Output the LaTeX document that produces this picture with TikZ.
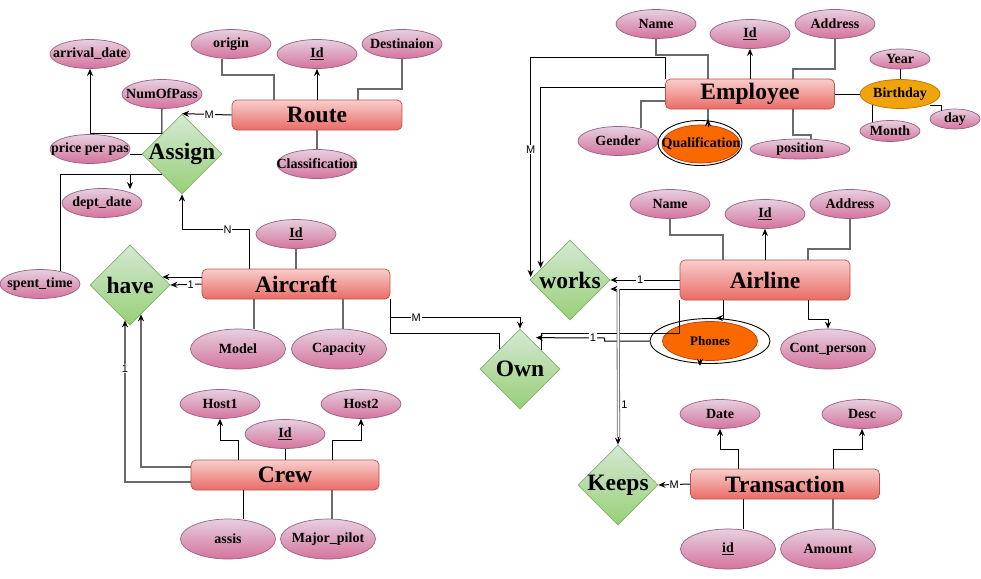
\documentclass[tikz,border=0pt]{standalone}
\usepackage{fontspec}
\setmainfont{Liberation Serif}
\newfontfamily\labsans{Liberation Sans}
\usetikzlibrary{shapes.geometric,arrows.meta,calc}
\definecolor{attrT}{HTML}{E6D0DE}
\definecolor{attrB}{HTML}{D5739D}
\definecolor{attrS}{HTML}{996185}
\definecolor{entT}{HTML}{F8CECC}
\definecolor{entB}{HTML}{EA6B66}
\definecolor{entS}{HTML}{B85450}
\definecolor{relT}{HTML}{D5E8D4}
\definecolor{relB}{HTML}{97D077}
\definecolor{relS}{HTML}{82B366}
\definecolor{bdayF}{HTML}{F0A30A}
\definecolor{bdayS}{HTML}{BD7000}
\definecolor{multiF}{HTML}{FA6800}
\definecolor{multiS}{HTML}{C73500}
\definecolor{lineG}{HTML}{6A6A6A}
\newcommand\myEfont{\bfseries\fontsize{23.5}{26}\selectfont}
\newcommand\myAfont{\bfseries\fontsize{14}{16}\selectfont}
\newcommand\myPfont{\bfseries\fontsize{13}{15}\selectfont}
\newcommand\myLfont{\labsans\fontsize{11}{12}\selectfont}
\begin{document}
\begin{tikzpicture}[x=1pt,y=-1pt,
  afont/.style={font=\myAfont, inner sep=0pt, text=black},
  attr/.style={ellipse, draw=attrS, top color=attrT, bottom color=attrB, minimum width=80pt, minimum height=29pt, inner sep=0pt, line width=0.7pt, label={[afont]center:#1}},
  big/.style={minimum width=95pt, minimum height=40pt},
  ent/.style={rectangle, rounded corners=5pt, draw=entS, top color=entT, bottom color=entB, minimum height=30pt, inner sep=0pt, line width=0.7pt, font=\myEfont},
  rel/.style={diamond, draw=relS, top color=relT, bottom color=relB, minimum width=80pt, minimum height=80pt, inner sep=0pt, line width=0.7pt, label={[font=\myEfont, inner sep=0pt]center:#1}},
  multi/.style={ellipse, draw=multiS, fill=multiF, inner sep=0pt, line width=0.7pt, label={[font=\myPfont, inner sep=0pt]center:#1}},
  multiA/.style={ellipse, draw=multiS, fill=multiF, inner sep=0pt, line width=0.7pt, label={[afont]center:#1}},
  multiout/.style={ellipse, draw=black, fill=white, inner sep=0pt, line width=0.9pt},
  bday/.style={ellipse, draw=bdayS, fill=bdayF, minimum width=80pt, minimum height=29pt, inner sep=0pt, line width=0.7pt, label={[afont]center:#1}},
  ln/.style={draw=lineG, line width=1.2pt},
  lk/.style={draw=black, line width=1pt},
  arr/.style={draw=black, line width=1pt, -{Stealth[length=7pt,width=6pt]}},
  arrg/.style={draw=lineG, line width=1.2pt, -{Stealth[length=7pt,width=6pt,color=black]}},
  dbl/.style={draw=lineG, double=white, double distance=1.6pt, line width=0.8pt},
  lab/.style={fill=white, inner sep=0.8pt, font=\myLfont}
]
\useasboundingbox (0,0) rectangle (981,578);
\fill[white] (0,0) rectangle (981,578);

% ---------- nodes ----------
\node[ent, minimum width=170pt] (route) at (317,115) {Route};
\node[attr=origin] (origin) at (231,44) {};
\node[attr={\underline{Id}}] (rId) at (317,54) {};
\node[attr=Destinaion] (dest) at (402,44) {};
\node[attr=Classification] (classif) at (317,164) {};
\node[rel=Assign] (assign) at (182,154) {};
\node[attr=NumOfPass] (numpass) at (162,94) {};
\node[attr=arrival\_date] (arrival) at (90,54) {};
\node[attr=price per pas] (price) at (90,149) {};
\node[attr=dept\_date] (dept) at (102,203) {};
\node[attr=spent\_time] (spent) at (40,284) {};

\node[ent, minimum width=188pt] (aircraft) at (296,284) {Aircraft};
\node[attr={\underline{Id}}] (aId) at (296,234) {};
\node[attr=Model, big] (model) at (238,349) {};
\node[attr=Capacity, big] (capacity) at (339,349) {};
\node[rel=have] (have) at (130,285) {};

\node[ent, minimum width=188pt] (crew) at (285,475) {Crew};
\node[attr=Host1] (host1) at (220,404) {};
\node[attr=Host2] (host2) at (361,404) {};
\node[attr={\underline{Id}}] (cId) at (285,434) {};
\node[attr=assis, big] (assis) at (228,539) {};
\node[attr=Major\_pilot, big] (major) at (328,539) {};

\node[rel=Own] (own) at (520,369) {};
\node[rel=works] (works) at (570,280) {};

\node[ent, minimum width=170pt, minimum height=40pt] (airline) at (765,280) {Airline};
\node[attr=Name] (alName) at (670,204) {};
\node[attr={\underline{Id}}] (alId) at (765,214) {};
\node[attr=Address] (alAddr) at (850,204) {};
\node[attr=Cont\_person, big] (cont) at (828,349) {};
\node[multiout, minimum width=120pt, minimum height=45pt] (phones) at (710,341) {};
\node[multi=Phones, minimum width=95pt, minimum height=39pt] (phonesIn) at (710,341) {};

\node[rel=Keeps] (keeps) at (618,485) {};
\node[ent, minimum width=189pt] (trans) at (785,484) {Transaction};
\node[attr=Date] (date) at (720,414) {};
\node[attr=Desc] (desc) at (862,414) {};
\node[attr={\underline{id}}, big] (tid) at (728,549) {};
\node[attr=Amount, big] (amount) at (828,549) {};

\node[ent, minimum width=169pt] (employee) at (750,94) {Employee};
\node[attr=Name] (eName) at (656,24) {};
\node[attr={\underline{Id}}] (eId) at (750,34) {};
\node[attr=Address] (eAddr) at (835,24) {};
\node[attr=Gender] (gender) at (618,141) {};
\node[multiout, minimum width=84pt, minimum height=45pt] (qual) at (700,143) {};
\node[multiA=Qualification, minimum width=78pt, minimum height=38pt] (qualIn) at (701,144) {};
\node[attr=position, minimum width=100pt, minimum height=20pt] (position) at (800,149) {};
\node[bday=Birthday] (birthday) at (900,94) {};
\node[attr=Year, minimum width=60pt, minimum height=20pt] (year) at (900,59) {};
\node[attr=Month, minimum width=60pt, minimum height=21pt] (month) at (890,131) {};
\node[attr=day, minimum width=50pt, minimum height=20pt] (day) at (955,119) {};

% ---------- Route ----------
\draw[ln] (origin.south -| 222,0) |- (274,75) -- (274,0 |- route.north);
\draw[arr] (route.north) -- (rId.south);
\draw[ln] (dest.south) |- (358,89) -- (358,0 |- route.north);
\draw[ln] (route.south) -- (classif.north);
\draw[arr] (route.west) -- node[lab,pos=0.45]{M} (assign.north);

% ---------- Assign ----------
\draw[lk] (numpass.south) -- (assign.north west);
\draw[arr] (assign.north west) -| (arrival.south);
\draw[lk] (assign.west) -- (price.east |- assign.west);
\draw[arr] (assign.south west) -| ($(dept.north)+(28,1)$);
\draw[lk] (assign.south west) -| ($(spent.north)+(20,2)$);

% ---------- Aircraft ----------
\draw[ln] (aircraft.north) -- (aId.south);
\draw[ln] (254,0 |- aircraft.south) -- (254,0 |- model.north);
\draw[ln] (343,0 |- aircraft.south) -- (343,0 |- capacity.north);
\draw[arr] (249,0 |- aircraft.north) |- node[lab,pos=0.66]{N} ($(assign.south)+(0,35)$) -- (assign.south);
\draw[arr] ($(aircraft.west)+(0,-7)$) -- ($(have.east)+(-8,-8)$);
\draw[arr] (aircraft.west) -- node[lab,pos=0.35]{1} (have.east);

% ---------- Crew ----------
\draw[lk] (cId.south) -- (crew.north);
\draw[arr] (238,0 |- crew.north) |- (host1.south |- 0,440) -- (host1.south);
\draw[arr] (332,0 |- crew.north) |- (host2.south |- 0,440) -- (host2.south);
\draw[lk] (243,0 |- crew.south) -- (243,0 |- assis.north);
\draw[ln] (332,0 |- crew.south) -- (332,0 |- major.north);
\draw[arrg] ($(crew.west)+(0,-8)$) -| ($(have.south)+(11,-11)$);
\draw[arrg] ($(crew.west)+(0,7)$) -| node[lab,pos=0.85]{1} ($(have.south)+(-5,-5)$);

% ---------- Own ----------
\draw[arr] (aircraft.south east) |- node[lab,pos=0.6]{M} ($(own.north)+(0,-11)$) -- (own.north);
\draw[lk] (aircraft.south east) |- ($(own.north west)+(0,-15)$) -- (own.north west);
\draw[lk] (airline.south west) |- ($(own.north)+(21,5)$) -- ($(own.north)+(21,21)$);
\draw[arr] (phones.west) -- ($(phones.west)+(-45,0)$) -- ($(phones.west)+(-45,-3)$) -- node[lab,pos=0.17]{1} ($(own.north)+(16,9)$);

% ---------- works / Keeps ----------
\draw[arr] (airline.west) -- node[lab,pos=0.57]{1} (works.east);
\draw[arr] ($(airline.west)+(0,9)$) -- ($(works.east)+(0,9)$);
\draw[dbl] ($(airline.west)+(-61.5,9)$) -- node[lab,pos=0.78,xshift=6pt,fill=none]{1} ($(keeps.north)+(0.5,-7)$);
\draw[arr] ($(keeps.north)+(0,-8)$) -- (keeps.north);
\draw[arr] (employee.north west) -- ++(0,-21) -| node[lab,pos=0.71]{M} ($(works.west)+(1,-3)$);
\draw[arr] ($(employee.west)+(0,-7)$) -| ($(works.west)+(11,-12)$);

% ---------- Employee attributes ----------
\draw[ln] (eName.south) |- (708,55) -- (708,0 |- employee.north);
\draw[arr] (employee.north) -- (eId.south);
\draw[ln] (eAddr.south) |- (793,69) -- (793,0 |- employee.north);
\draw[ln] ($(employee.west)+(0,7)$) -| ($(gender.north)+(23,2)$);
\draw[ln] (708,0 |- employee.south) -- ($(qual.north)+(8,0)$);
\draw[arr] ($(qual.north)+(8,7)$) -- ($(qual.north)+(8,-1)$);
\draw[ln] (793,0 |- employee.south) |- (811,135) -- ($(position.north)+(11,0)$);
\draw[lk] (employee.east) -- (birthday.west);
\draw[lk] (year.south) -- (birthday.north);
\draw[lk] ($(birthday.south)+(-28,-4)$) -- ($(month.north)+(-18,2)$);
\draw[lk] ($(birthday.east)+(-10,11)$) -| ($(day.north)+(-14,2)$);

% ---------- Airline attributes ----------
\draw[ln] (alName.south) |- (723,235) -- (723,0 |- airline.north);
\draw[arr] (airline.north) -- (alId.south);
\draw[ln] (alAddr.south) |- (808,249) -- (808,0 |- airline.north);
\draw[arr] (808,0 |- airline.south) |- (cont.north |- 0,319) -- (cont.north);
\draw[arr] (723,0 |- airline.south) |- ($(phones.north)+(6,0)$);
\draw[arr] ($(phones.south)+(-10,-5)$) -- ($(phones.south)+(-10,2)$);

% ---------- Transaction ----------
\draw[arr] (738,0 |- trans.north) |- (date.south |- 0,449) -- (date.south);
\draw[arr] (833,0 |- trans.north) |- (desc.south |- 0,449) -- (desc.south);
\draw[lk] (743,0 |- trans.south) -- (743,0 |- tid.north);
\draw[ln] (833,0 |- trans.south) -- (833,0 |- amount.north);
\draw[arr] (trans.west) -- node[lab]{M} (keeps.east);
\end{tikzpicture}
\end{document}
